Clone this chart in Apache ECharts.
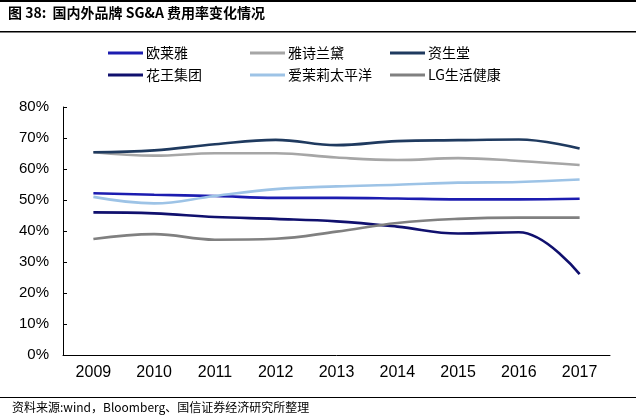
<!DOCTYPE html>
<html><head><meta charset="utf-8">
<script src="https://cdn.jsdelivr.net/npm/echarts@6/dist/echarts.min.js"></script>
<style>html,body{margin:0;padding:0;background:#fff}#c{width:636px;height:418px}</style>
</head><body><div id="c"></div>
<script>
var years = ['2009','2010','2011','2012','2013','2014','2015','2016','2017'];
var yTicks = [0,10,20,30,40,50,60,70,80];
var loreal   = [52.2,51.7,51.3,50.7,50.7,50.5,50.2,50.2,50.4];
var esteeLauder = [65.4,64.3,65.1,65.1,63.7,62.9,63.5,62.6,61.3];
var shiseido = [65.4,66.0,68.0,69.4,67.7,69.0,69.3,69.5,66.6];
var kao      = [46.0,45.7,44.5,43.9,43.1,41.4,39.2,39.6,26.1];
var amore    = [51.0,48.9,51.3,53.5,54.4,54.9,55.6,55.8,56.6];
var lgHH     = [37.4,39.0,37.2,37.5,39.8,42.6,43.9,44.3,44.3];
var names = ['欧莱雅','雅诗兰黛','资生堂','花王集团','爱茉莉太平洋','LG生活健康'];
var colors = ['#1C1CB0','#A6A6A6','#1F3A5F','#10106E','#9DC3E6','#808080'];
var datas = [loreal, esteeLauder, shiseido, kao, amore, lgHH];

var chart = echarts.init(document.getElementById('c'));
var series = names.map(function(n,i){
  return {name:n,type:'line',data:datas[i],smooth:0.4,symbol:'none',
    lineStyle:{width:2.6,color:colors[i]},itemStyle:{color:colors[i]}};
});
function leg(list,left){
  return {data:list,orient:'vertical',left:left,top:41,itemGap:8,itemWidth:35,itemHeight:3,
    icon:'rect',textStyle:{fontFamily:'Noto Sans CJK SC',fontSize:14,color:'#000',padding:[0,0,0,-2]}};
}
chart.setOption({
  animation:false,
  graphic:[
    {type:'rect',shape:{x:0,y:0,width:636,height:2},style:{fill:'#000'}},
    {type:'text',left:8,top:6,style:{text:'图 38:  国内外品牌 SG&A 费用率变化情况',font:'bold 14px "Noto Sans CJK SC", Arial',fill:'#000'}},
    {type:'rect',shape:{x:0,y:31,width:636,height:1.5},style:{fill:'#000'}},
    {type:'rect',shape:{x:0,y:397,width:636,height:1},style:{fill:'#000'}},
    {type:'text',left:12,top:401,style:{text:'资料来源:wind，Bloomberg、国信证券经济研究所整理',font:'12px "Noto Sans CJK SC", "Liberation Sans"',fill:'#000'}}
  ],
  legend:[leg([names[0],names[3]],103),leg([names[1],names[4]],245),leg([names[2],names[5]],385)],
  grid:{left:63,right:26,top:107,bottom:63},
  xAxis:{type:'category',data:years,boundaryGap:true,
    axisLine:{lineStyle:{color:'#000',width:1}},
    axisTick:{inside:true,length:5,lineStyle:{color:'#000'}},
    axisLabel:{fontFamily:'Liberation Sans',fontSize:16,color:'#000',margin:10}},
  yAxis:{type:'value',min:0,max:80,interval:10,
    axisLine:{show:true,lineStyle:{color:'#000',width:1}},
    axisTick:{show:true,inside:true,length:4,lineStyle:{color:'#000'}},
    splitLine:{show:false},
    axisLabel:{fontFamily:'Liberation Sans',fontSize:15,color:'#000',margin:14,formatter:function(v){return v+'%';}}},
  series:series
});
</script></body></html>
